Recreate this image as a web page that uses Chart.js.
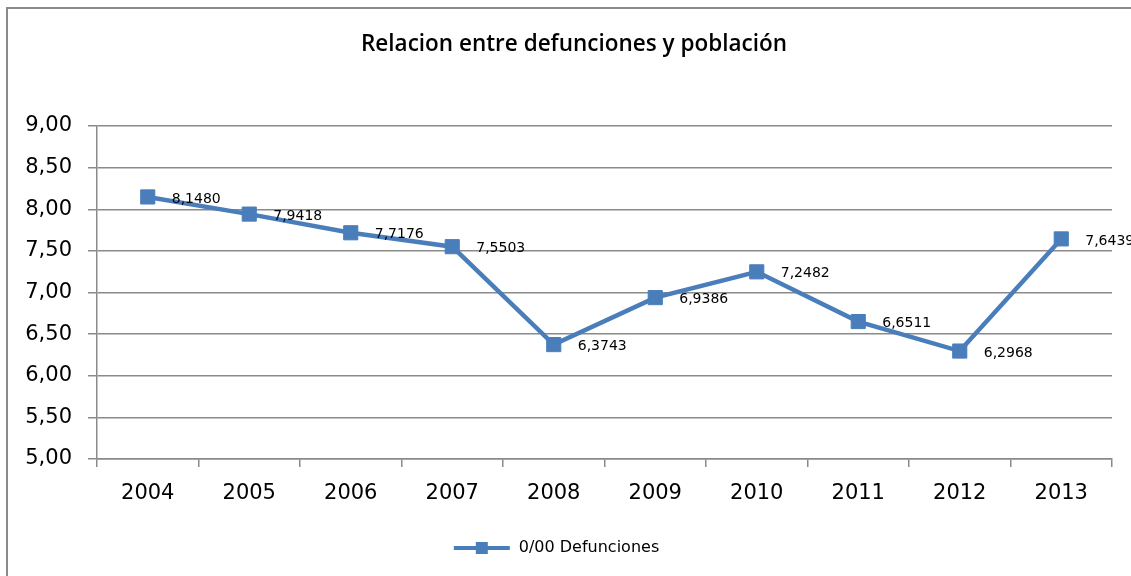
<!DOCTYPE html>
<html>
<head>
<meta charset="utf-8">
<script src="https://cdn.jsdelivr.net/npm/chart.js@4/dist/chart.umd.min.js"></script>
<style>
  html, body { margin: 0; padding: 0; background: #fff; overflow: hidden; }
  #wrap { position: relative; width: 1131px; height: 576px; }
  #frame { position: absolute; left: 6px; top: 7px; width: 1140px; height: 600px;
           border-left: 2px solid #8a8a8a; border-top: 2px solid #8a8a8a; pointer-events: none; }
</style>
</head>
<body>
<div id="wrap">
  <canvas id="c" width="1131" height="576"></canvas>
  <div id="frame"></div>
</div>
<script>
const titleText = 'Relacion entre defunciones y población';
const seriesName = '0/00 Defunciones';
const categories = ['2004','2005','2006','2007','2008','2009','2010','2011','2012','2013'];
const defunciones = [8.1480, 7.9418, 7.7176, 7.5503, 6.3743, 6.9386, 7.2482, 6.6511, 6.2968, 7.6439];
const yTickValues = [5.00, 5.50, 6.00, 6.50, 7.00, 7.50, 8.00, 8.50, 9.00];

const BLUE = '#4a7ebb';
const GRID = '#8a8a8a';

// legend sample: line with square marker
const sample = document.createElement('canvas');
sample.width = 58; sample.height = 14;
(function(){
  const g = sample.getContext('2d');
  g.strokeStyle = BLUE; g.lineWidth = 4;
  g.beginPath(); g.moveTo(1, 7); g.lineTo(57, 7); g.stroke();
  g.fillStyle = BLUE; g.fillRect(23, 1, 12, 12);
})();

const fmt = (v, d) => v.toFixed(d).replace('.', ',');

const dataLabels = {
  id: 'dataLabels',
  afterDatasetsDraw(chart) {
    const ctx = chart.ctx;
    const meta = chart.getDatasetMeta(0);
    ctx.save();
    ctx.font = '14px "DejaVu Sans"';
    ctx.fillStyle = '#000';
    ctx.textAlign = 'left';
    ctx.textBaseline = 'middle';
    meta.data.forEach((pt, i) => {
      ctx.fillText(fmt(defunciones[i], 4), pt.x + 24, pt.y + 2);
    });
    ctx.restore();
  }
};

const chartTitle = {
  id: 'chartTitle',
  afterDraw(chart) {
    const ctx = chart.ctx;
    ctx.save();
    ctx.font = '600 22.5px "Open Sans"';
    ctx.fillStyle = '#000';
    ctx.textAlign = 'center';
    ctx.textBaseline = 'middle';
    ctx.fillText(titleText, 574, 45);
    ctx.restore();
  }
};

new Chart(document.getElementById('c'), {
  type: 'line',
  data: {
    labels: categories,
    datasets: [{
      label: seriesName,
      data: defunciones,
      borderColor: BLUE,
      backgroundColor: BLUE,
      borderWidth: 4.5,
      pointStyle: 'rect',
      pointRadius: 10,
      pointBorderWidth: 1,
      pointBackgroundColor: BLUE,
      pointBorderColor: BLUE,
      tension: 0
    }]
  },
  options: {
    responsive: false,
    animation: false,
    devicePixelRatio: 1,
    layout: { padding: { left: 0, right: 19, top: 126, bottom: 10 } },
    plugins: {
      title: { display: false },
      legend: {
        display: true,
        position: 'bottom',
        labels: {
          usePointStyle: true,
          pointStyle: sample,
          pointStyleWidth: 58,
          color: '#000',
          font: { family: 'DejaVu Sans', size: 16 },
          padding: 10
        }
      },
      tooltip: { enabled: false }
    },
    scales: {
      x: {
        type: 'category',
        offset: true,
        grid: { display: true, offset: true, drawOnChartArea: false, drawTicks: true,
                tickLength: 8, color: GRID, lineWidth: 1.5 },
        border: { display: true, color: GRID, width: 1.5 },
        ticks: { color: '#000', font: { family: 'DejaVu Sans', size: 21 }, padding: 14, maxRotation: 0 },
        afterFit(s) { s.height = 71; }
      },
      y: {
        min: 5, max: 9,
        afterBuildTicks(s) { s.ticks = yTickValues.map(v => ({ value: v })); },
        grid: { color: GRID, lineWidth: 1.5, tickLength: 9, drawTicks: true },
        border: { display: true, color: GRID, width: 1.5 },
        ticks: { color: '#000', font: { family: 'DejaVu Sans', size: 21 }, padding: 16,
                 callback: v => fmt(v, 2) },
        afterFit(s) { s.width = 97; }
      }
    }
  },
  plugins: [dataLabels, chartTitle]
});
</script>
</body>
</html>
